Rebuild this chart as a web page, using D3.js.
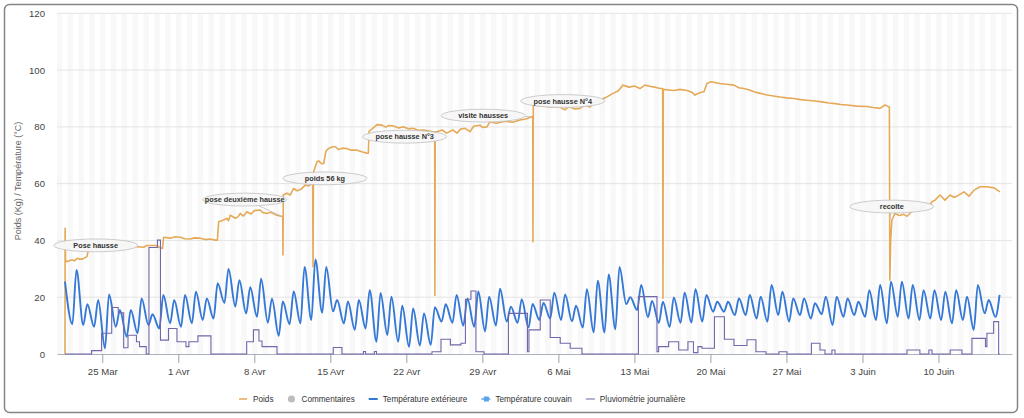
<!DOCTYPE html>
<html><head><meta charset="utf-8">
<script src="https://cdn.jsdelivr.net/npm/d3@7"></script>
<style>
body{margin:0;background:#fff;}
svg{display:block;font-family:"Liberation Sans",Arial,Helvetica,sans-serif;}
</style>
</head><body>
<svg id="chart" width="1024" height="418"></svg>
<script>
// ---------- DATA ----------
// time is expressed in days since 25 Mar 2019 00:00 (UTC)
const tickDates = ["2019-03-25","2019-04-01","2019-04-08","2019-04-15","2019-04-22","2019-04-29","2019-05-06","2019-05-13","2019-05-20","2019-05-27","2019-06-03","2019-06-10"];
const tickLabels = ["25 Mar","1 Avr","8 Avr","15 Avr","22 Avr","29 Avr","6 Mai","13 Mai","20 Mai","27 Mai","3 Juin","10 Juin"];
const yTicks = [0,20,40,60,80,100,120];

// Poids (kg): [day, kg]
const weight = [[-3.43,0],[-3.42,44.3],[-3.38,33.0],[-3.25,32.5],[-2.79,33.2],[-2.55,32.8],[-2.33,33.7],[-2.1,33.4],[-1.87,33.4],[-1.41,34.3],[-1.25,37.2],[-0.79,37.8],[-0.3,38.3],[0.43,38.5],[1.2,38.3],[1.97,38.5],[2.6,38.0],[3.2,37.8],[3.81,37.6],[4.12,38.2],[5.04,38.2],[5.34,37.4],[5.55,37.2],[5.65,41.1],[6.26,40.8],[6.7,41.3],[7.18,41.1],[7.6,40.6],[8.1,40.5],[8.5,40.9],[9.02,40.8],[9.5,40.3],[9.94,40.5],[10.41,40.1],[10.6,40.1],[10.72,46.6],[11.18,47.2],[11.48,47.8],[11.62,46.9],[11.79,48.9],[12.25,47.8],[12.5,48.3],[12.71,49.5],[13.0,48.6],[13.32,50.1],[13.7,49.3],[14.0,50.5],[14.55,50.7],[14.8,49.8],[15.17,49.5],[15.5,49.9],[16.0,49.0],[16.55,48.4],[16.62,48.4],[16.64,34.9],[16.67,56.0],[17.0,56.6],[17.3,56.0],[17.62,58.3],[17.93,57.5],[18.3,58.0],[18.69,59.5],[19.0,59.2],[19.38,60.1],[19.41,30.7],[19.45,64.0],[19.77,67.7],[19.93,68.0],[20.2,67.0],[20.39,67.1],[20.6,71.5],[20.85,72.4],[21.2,73.0],[21.46,73.0],[21.77,72.0],[22.1,72.5],[22.53,72.4],[22.9,71.8],[23.45,71.8],[23.91,71.2],[24.37,70.7],[24.5,70.7],[24.56,78.3],[24.9,79.5],[25.3,80.8],[25.76,80.6],[26.1,79.9],[26.4,80.5],[26.83,80.3],[27.3,79.6],[27.7,80.0],[28.2,79.3],[28.61,79.5],[29.1,78.8],[29.6,78.9],[30.1,78.5],[30.5,78.3],[30.61,78.3],[30.63,20.6],[30.66,78.3],[30.82,78.3],[31.3,78.9],[31.7,77.8],[32.29,78.9],[32.66,77.8],[33.0,79.2],[33.4,79.5],[33.86,78.3],[34.2,80.2],[34.78,80.6],[35.0,79.8],[35.42,80.0],[35.7,81.8],[36.3,81.3],[37.08,82.0],[37.8,81.6],[38.46,82.4],[39.0,82.8],[39.55,83.6],[39.64,83.6],[39.66,39.5],[39.69,87.7],[40.5,87.4],[41.3,87.0],[42.14,87.0],[42.6,86.0],[43.0,87.2],[43.5,86.3],[43.99,86.5],[44.4,87.6],[44.9,87.0],[45.3,88.6],[45.83,89.4],[46.4,90.4],[47.03,91.8],[47.5,92.6],[47.95,94.7],[48.5,94.0],[49.0,94.4],[49.51,93.5],[49.97,94.7],[50.5,94.2],[51.0,93.9],[51.35,93.5],[51.6,93.5],[51.63,19.6],[51.66,93.2],[52.2,93.0],[52.64,92.8],[53.2,93.2],[53.84,92.8],[54.3,92.2],[54.58,91.2],[55.0,92.0],[55.41,92.4],[55.68,95.3],[56.05,95.9],[56.88,95.3],[57.5,95.0],[58.17,94.7],[58.6,93.8],[59.09,93.5],[59.6,93.0],[60.01,92.4],[60.6,91.8],[61.21,91.2],[61.8,90.9],[62.4,90.5],[63.0,90.2],[63.69,90.0],[64.3,89.6],[64.89,89.4],[65.6,89.1],[66.27,88.8],[66.9,88.4],[67.47,88.2],[68.0,87.9],[68.57,87.7],[69.5,87.3],[70.42,87.2],[71.0,86.8],[71.61,86.5],[72.07,87.7],[72.3,87.3],[72.48,87.0],[72.52,26.0],[72.6,40.0],[72.71,47.2],[72.99,49.5],[73.4,48.8],[73.82,49.2],[74.1,48.5],[74.37,49.5],[74.83,51.3],[75.2,50.5],[75.94,53.0],[76.2,52.6],[76.4,53.6],[76.68,54.2],[77.14,56.0],[77.6,54.2],[78.06,56.0],[78.4,55.2],[78.7,55.6],[79.35,57.1],[79.81,55.6],[80.27,57.7],[80.82,58.9],[81.46,58.9],[82.11,58.5],[82.66,57.1]];

// Température extérieure: first reading, then daily minimum (~06h) and maximum (~15h), 22 Mar .. 15 Jun
const tempFirst = [-3.43, 25.5];
const tempFirstDay = -3;
const tempMin = [10.5,10.2,9.6,2,9.6,6.1,7.3,10.2,9,10.8,9.6,10.8,12,12.5,18,16.7,14.3,13.1,11,6.4,10.5,10.8,12,14.5,15,10.8,8.5,9,4.3,6.7,4.3,2.5,3,3.2,11.4,11,10,9.6,8,10,11.4,11,9.3,12,12.5,12,11.5,9.3,7.6,7.6,8.7,17.6,15.5,13,11,9.5,11,11.1,11.4,14.9,14.9,13.7,13.7,12.5,11.4,13.7,11.4,13.7,12.5,14,10.2,13.1,13.7,13.1,12,10.8,13.1,12.5,12,12.5,12,10.8,12,8.5,14.3,13.1];
const tempMax = [29.6,17.5,19,21,15.5,15.5,19.6,14,20.8,19,20.8,21.9,19.6,24.9,30,26,23.5,26.5,19.5,18.5,22,30.7,33.3,30.7,19,18.5,19,22.5,21.5,20.2,17,16,14.3,16.5,17.5,20.8,19.6,22,20.2,23,16.7,19.3,17.6,18,21.6,21,17,22.8,25.8,28,30.7,20,24.3,18.7,18.4,19.9,21.6,22.8,20.8,18.4,18.4,19.6,20.8,20.2,24.3,21.9,19.6,19.6,17.9,20.2,20.2,19.6,18.4,22.5,24.3,25.5,25.5,24.3,22.5,22.5,21.9,22.5,20.2,24.3,19,20.8];

// Pluviométrie journalière (mm): [day, value] steps
const rain = [[-3.43,0],[-0.98,1.2],[-0.06,7.3],[0.87,16.4],[1.47,14.5],[1.97,2.2],[2.37,6.6],[3.15,4.3],[3.43,2.6],[4.05,0],[4.30,37.5],[5.08,40.1],[5.36,4.9],[6.10,9.0],[6.88,4.3],[7.71,2.6],[7.98,4.3],[8.81,6.4],[10.01,0],[13.30,4.3],[13.92,8.5],[14.43,4.6],[14.71,2.6],[16.09,0],[21.27,2.3],[22.07,0],[24.05,0.9],[24.24,0],[25.06,0.9],[25.25,0],[30.36,0.8],[31.19,5.2],[32.06,3.2],[33.03,3.8],[33.44,19.3],[33.95,22.2],[34.41,0.8],[35.15,0],[37.40,14.3],[39.15,0.8],[39.29,8.5],[40.33,19],[41.25,5.8],[42.17,3.8],[43.09,2.0],[44.17,0],[49.37,20.2],[51.08,0.8],[51.23,2.6],[52.15,4.3],[53.08,1.4],[53.93,4.3],[54.44,0.5],[54.85,2.6],[55.22,2.0],[56.37,13.1],[57.29,5.2],[58.17,3.0],[59.37,5.0],[60.19,0.8],[61.12,0],[62.31,0.8],[63.05,0],[65.30,3.8],[66.09,1.4],[66.55,0],[67.19,1.4],[67.47,0],[74.10,1.4],[75.29,0],[76.12,1.4],[76.40,0],[78.08,1.4],[79.16,0],[80.08,5.5],[81.33,2.6],[81.46,7.3],[82.08,11.4],[82.54,0],[82.66,0]];

// Commentaires (annotations): text and the weight point they refer to
const commentTexts = ["Pose hausse","pose deuxième hausse","poids 56 kg","pose hausse N°3","visite hausses","pose hausse N°4","recolte"];
const commentDays = [-1.25,16.62,19.40,30.61,39.5,39.64,72.52];
const commentKg = [37.2,48.4,60.1,78.3,83.6,87.7,47.0];

const legendNames = ["Poids","Commentaires","Température extérieure","Température couvain","Pluviométrie journalière"];

// ---------- LAYOUT / STYLE ----------
const W = 1024, H = 418;
const plot = {left:57, right:1012, top:13.3, bottom:354};
const labelOffsets = [[7,-3],[-38,-17],[12,-5],[-30,5],[-48,-1],[30,-4],[2,-14]];
const colors = {weight:"#e5a957", temp:"#3578d6", couvain:"#5aa5ec", rain:"#7167aa", comment:"#bdbdbd"};

const t0 = Date.UTC(2019,2,25);
const toDate = d => new Date(t0 + d*864e5);

const svg = d3.select("#chart");
svg.append("rect").attr("width",W).attr("height",H).attr("fill","#fff");

const x = d3.scaleUtc().domain([toDate(-4.167), toDate(83.77)]).range([plot.left, plot.right]);
const y = d3.scaleLinear().domain([0,120]).range([plot.bottom, plot.top]);

// night bands
const bands = svg.append("g");
for (let d=-5; d<=84; d++) {
  const a = Math.max(plot.left, x(toDate(d-5/24))), b = Math.min(plot.right, x(toDate(d+7/24)));
  if (b>a) bands.append("rect").attr("x",a).attr("y",plot.top).attr("width",b-a).attr("height",plot.bottom-plot.top).attr("fill","#f8f8f8");
}

// gridlines
svg.append("g").selectAll("line").data(yTicks.filter(v=>v>0)).join("line")
  .attr("x1",plot.left).attr("x2",plot.right).attr("y1",d=>y(d)).attr("y2",d=>y(d))
  .attr("stroke","#e4e4e4").attr("stroke-width",1);

// y axis labels
const yAxis = svg.append("g").attr("transform",`translate(${plot.left},0)`)
  .call(d3.axisLeft(y).tickValues(yTicks).tickSize(0).tickPadding(12));
yAxis.select(".domain").remove();
yAxis.selectAll("text").attr("font-size","9.6px").attr("fill","#444").attr("font-family","Liberation Sans, Arial, sans-serif");

// y title
svg.append("text").attr("transform","translate(21,181) rotate(-90)").attr("text-anchor","middle")
  .attr("font-size","9px").attr("fill","#666").text("Poids (Kg) / Température (°C)");

// x axis
const xAxis = svg.append("g").attr("transform",`translate(0,${plot.bottom})`)
  .call(d3.axisBottom(x).tickValues(tickDates.map(s=>new Date(s+"T00:00:00Z"))).tickFormat((d,i)=>tickLabels[i]).tickSize(9).tickSizeOuter(0).tickPadding(5));
xAxis.select(".domain").attr("stroke","#a9b2bd");
xAxis.selectAll(".tick line").attr("stroke","#9aa3ad");
xAxis.selectAll("text").attr("font-size","9.6px").attr("fill","#444").attr("font-family","Liberation Sans, Arial, sans-serif");

const g = svg.append("g");

// Poids
g.append("path").datum(weight)
  .attr("d", d3.line().x(d=>x(toDate(d[0]))).y(d=>y(d[1])))
  .attr("fill","none").attr("stroke",colors.weight).attr("stroke-width",1.6).attr("stroke-linejoin","round");

// Température extérieure
const tempPts = [tempFirst];
tempMin.forEach((v,i)=>{ const d = tempFirstDay + i; tempPts.push([d+0.25, v]); tempPts.push([d+0.625, tempMax[i]]); });
g.append("path").datum(tempPts)
  .attr("d", d3.line().x(d=>x(toDate(d[0]))).y(d=>y(d[1])).curve(d3.curveMonotoneX))
  .attr("fill","none").attr("stroke",colors.temp).attr("stroke-width",1.9).attr("stroke-linejoin","round");

// Pluviométrie
g.append("path").datum(rain)
  .attr("d", d3.line().x(d=>x(toDate(d[0]))).y(d=>y(d[1])).curve(d3.curveStepAfter))
  .attr("fill","none").attr("stroke",colors.rain).attr("stroke-width",1.1);

// Commentaires
const ann = svg.append("g");
commentTexts.forEach((t,i)=>{
  const ax = x(toDate(commentDays[i])), ay = y(commentKg[i]);
  const cx = ax + labelOffsets[i][0], cy = ay + labelOffsets[i][1];
  ann.append("line").attr("x1",ax).attr("y1",ay).attr("x2",cx).attr("y2",cy).attr("stroke","#c2c2c2").attr("stroke-width",0.8);
  ann.append("ellipse").attr("cx",cx).attr("cy",cy).attr("rx",42).attr("ry",6.4)
    .attr("fill","#f7f7f7").attr("fill-opacity",0.96).attr("stroke","#c6c6c6").attr("stroke-width",0.9);
  ann.append("text").attr("x",cx).attr("y",cy).attr("dy","0.35em").attr("text-anchor","middle")
    .attr("font-size","7.3px").attr("font-weight","bold").attr("fill","#333").text(t);
});

// Legend
const lg = svg.append("g").attr("font-size","8.2px").attr("fill","#333");
let lx = 239; const ly = 399;
legendNames.forEach((name,i)=>{
  if (i===0) lg.append("line").attr("x1",lx).attr("x2",lx+8).attr("y1",ly).attr("y2",ly).attr("stroke",colors.weight).attr("stroke-width",1.5);
  if (i===1) lg.append("circle").attr("cx",lx+4).attr("cy",ly).attr("r",3.6).attr("fill",colors.comment);
  if (i===2) lg.append("line").attr("x1",lx).attr("x2",lx+9).attr("y1",ly).attr("y2",ly).attr("stroke",colors.temp).attr("stroke-width",2);
  if (i===3) { lg.append("line").attr("x1",lx).attr("x2",lx+9).attr("y1",ly).attr("y2",ly).attr("stroke",colors.couvain).attr("stroke-width",1.5);
               lg.append("rect").attr("x",lx+2.5).attr("y",ly-2.5).attr("width",5).attr("height",5).attr("fill",colors.couvain); }
  if (i===4) lg.append("line").attr("x1",lx).attr("x2",lx+9).attr("y1",ly).attr("y2",ly).attr("stroke","#9c97c4").attr("stroke-width",1.5);
  const tx = lg.append("text").attr("x",lx+14).attr("y",ly+3).text(name);
  lx += 14 + tx.node().getComputedTextLength() + 14;
});

// frame
svg.append("rect").attr("x",4.5).attr("y",4.5).attr("width",1013).attr("height",408).attr("rx",5)
  .attr("fill","none").attr("stroke","#858585").attr("stroke-width",1.5);
</script>
</body></html>
